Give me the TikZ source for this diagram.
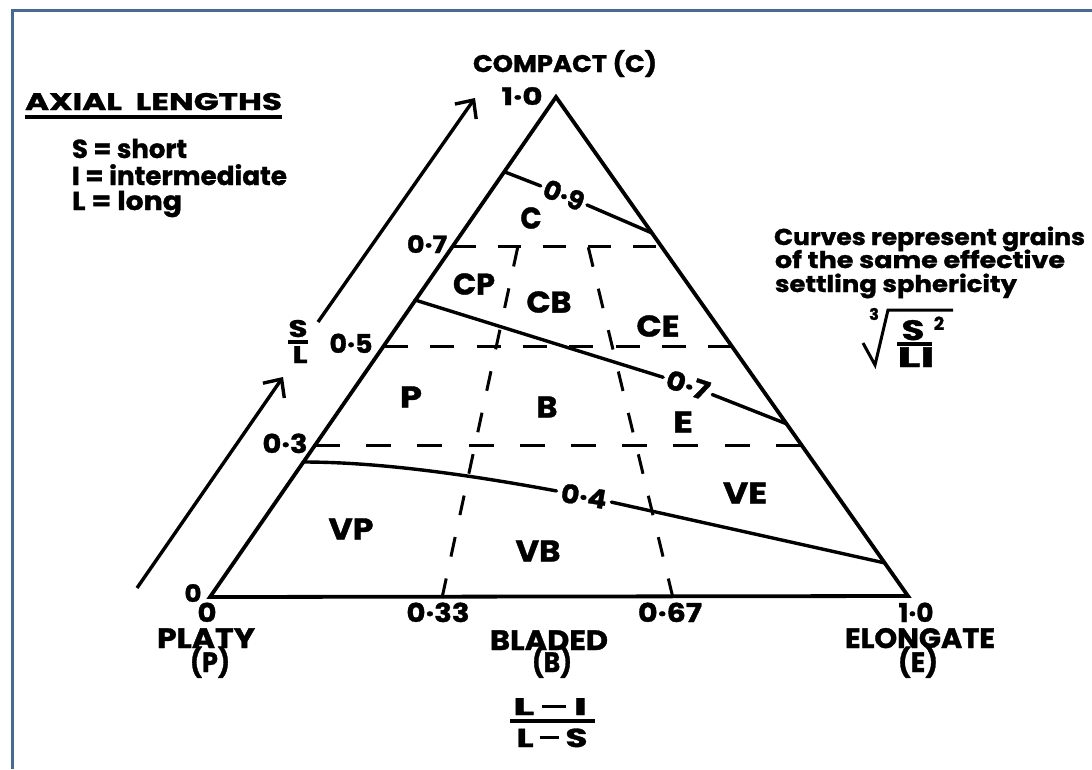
\documentclass[tikz,border=0pt]{standalone}
\usepackage{fontspec}
\setmainfont{Poppins}[BoldFeatures={FakeBold=1.2}]
\usetikzlibrary{arrows.meta}
\definecolor{framecol}{RGB}{68,104,160}
\newcommand\sw[2]{\resizebox{#1pt}{\height}{#2}}
\newcommand\fs[1]{\fontsize{#1}{#1}\selectfont}
\newcommand\dsh{\raisebox{0.3em}{\rule{0.55em}{0.11em}}}
\begin{document}
\begin{tikzpicture}[x=1pt,y=-1pt,
  lbl/.style={inner sep=0pt, outer sep=0pt},
  t24/.style={lbl, font=\bfseries\fs{24}},
  t26/.style={lbl, font=\bfseries\fs{26}},
  t28/.style={lbl, font=\bfseries\fs{28}},
  region/.style={lbl, font=\bfseries\fs{30}},
  clab/.style={inner sep=0pt, outer sep=0pt, font=\bfseries\fs{26}},
  edge/.style={line width=3.8pt},
  curve/.style={line width=3.4pt, line cap=round},
  dashline/.style={line width=3pt},
  arr/.style={line width=3.4pt, -{Straight Barb[length=14pt,width=26pt]}},
  bar/.style={line width=3.2pt}
]
\useasboundingbox (0,0) rectangle (1092,769);
\fill[white] (0,0) rectangle (1092,769);
% frame
\draw[framecol, line width=3pt] (12,769) -- (12,10) -- (1092,10);

% triangle
\coordinate (vP) at (210,597);
\coordinate (vE) at (908,596);
\coordinate (vC) at (556,97);
\draw[edge] (vP) -- (vC) -- (vE) -- cycle;

% dashed horizontal lines
\coordinate (h7l) at (453,246); \coordinate (h7r) at (661,246);
\coordinate (h5l) at (384,346); \coordinate (h5r) at (732,346);
\coordinate (h3l) at (315,445); \coordinate (h3r) at (801,445);
\draw[dashline, dash pattern=on 23pt off 22pt] (h7l) -- (h7r);
\draw[dashline, dash pattern=on 24pt off 22.3pt] (h5l) -- (h5r);
\draw[dashline, dash pattern=on 25pt off 26.2pt] (h3l) -- (h3r);
% dashed radial lines
\coordinate (t33) at (518,246); \coordinate (b33) at (442,598);
\coordinate (t67) at (588,246); \coordinate (b67) at (673,598);
\draw[dashline, dash pattern=on 20pt off 22.4pt] (b33) -- (t33);
\draw[dashline, dash pattern=on 20pt off 22.6pt] (b67) -- (t67);

% sphericity curves
\coordinate (a9) at (505,172); \coordinate (d9) at (652,233);
\node[clab, rotate=-22] (n9) at (564,195) {\sw{42}{0·9}};
\draw[curve, shorten >=4pt] (a9) -- (n9);
\draw[curve, shorten <=4pt] (n9) -- (d9);

\coordinate (a7) at (415,300); \coordinate (d7) at (787,424);
\node[clab, rotate=-18] (n7) at (688,385) {\sw{44}{0·7}};
\draw[curve, shorten >=4pt] (a7) -- (n7);
\draw[curve, shorten <=4pt] (n7) -- (d7);

\coordinate (a4) at (303,462); \coordinate (d4) at (885,563);
\node[clab, rotate=-9] (n4) at (584,496) {\sw{46}{0·4}};
\draw[curve, shorten >=5pt] (a4) .. controls (380,462) and (470,475) .. (n4);
\draw[curve, shorten <=5pt] (n4) -- (d4);

% arrows
\coordinate (u0) at (318,322); \coordinate (u1) at (475,98);
\coordinate (w0) at (137,588); \coordinate (w1) at (283,377);
\draw[arr] (u0) -- (u1);
\draw[arr] (w0) -- (w1);

% legend
\node[t24, anchor=base west] (axl) at (25,110) {\sw{257}{AXIAL\ \ LENGTHS}};
\coordinate (ul1) at (25,117); \coordinate (ul2) at (282,117);
\draw[bar] (ul1) -- (ul2);
\node[t26, anchor=base west] (lgs) at (72,158) {\sw{115}{S = short}};
\node[t26, anchor=base west] (lgi) at (72,185) {\sw{215}{I = intermediate}};
\node[t26, anchor=base west] (lgl) at (72,210) {\sw{110}{L = long}};

% top label
\node[t24, anchor=base] (cmp) at (565,72) {\sw{184}{COMPACT (C)}};

% left-side numbers
\node[t24, anchor=base] (n10t) at (522,105) {\sw{41}{1·0}};
\node[t24, anchor=base] (s07) at (427,253) {\sw{40}{0·7}};
\node[t26, anchor=base] (s05) at (351,353) {\sw{43}{0·5}};
\node[t26, anchor=base] (s03) at (285,453) {\sw{45}{0·3}};
\node[t24, anchor=base] (s00) at (193,602) {\sw{17}{0}};

% base numbers
\node[t26, anchor=base] (b00) at (207,622) {\sw{19}{0}};
\node[t26, anchor=base] (b033) at (438,622) {\sw{63}{0·33}};
\node[t26, anchor=base] (b067) at (670,622) {\sw{64}{0·67}};
\node[t26, anchor=base] (b10) at (916,622) {\sw{35}{1·0}};

% end-member labels
\node[t28, anchor=base] (platy) at (206,648) {\sw{98}{PLATY}};
\node[t28, anchor=base] (platyp) at (210,672) {\sw{40}{(P)}};
\node[t28, anchor=base] (bladed) at (549,650) {\sw{118}{BLADED}};
\node[t28, anchor=base] (bladedb) at (552,672) {\sw{40}{(B)}};
\node[t28, anchor=base] (elong) at (920,648) {\sw{150}{ELONGATE}};
\node[t28, anchor=base] (elonge) at (918,672) {\sw{40}{(E)}};

% x-axis fraction
\node[t24, anchor=base] (fnum) at (550,715) {\sw{74}{L\,\dsh\,I}};
\node[t26, anchor=base] (fden) at (552,747) {\sw{71}{L\,\dsh\,S}};
\coordinate (fb1) at (510,721); \coordinate (fb2) at (595,721);
\draw[bar] (fb1) -- (fb2);

% y-axis fraction
\node[t24, anchor=base] (ys) at (298,337) {\sw{19}{S}};
\node[t24, anchor=base] (yl) at (300,363) {\sw{15}{L}};
\coordinate (yb1) at (288,342); \coordinate (yb2) at (308,342);
\draw[bar] (yb1) -- (yb2);

% region labels
\node[region] (rC)  at (531,218) {\sw{21}{C}};
\node[region] (rCP) at (474,284) {\sw{42}{CP}};
\node[region] (rCB) at (549,302) {\sw{45}{CB}};
\node[region] (rCE) at (658,326) {\sw{43}{CE}};
\node[region] (rP)  at (411,397) {\sw{22}{P}};
\node[region] (rB)  at (547,407) {\sw{21}{B}};
\node[region] (rE)  at (683,422) {\sw{20}{E}};
\node[region] (rVP) at (351,529) {\sw{45}{VP}};
\node[region] (rVB) at (538,551) {\sw{45}{VB}};
\node[region] (rVE) at (745,493) {\sw{44}{VE}};

% right note
\node[lbl, font=\bfseries\fs{23}, anchor=base west] (r1) at (774,245) {\sw{311}{Curves represent grains}};
\node[lbl, font=\bfseries\fs{23}, anchor=base west] (r2) at (775,268) {\sw{290}{of the same effective}};
\node[lbl, font=\bfseries\fs{23}, anchor=base west] (r3) at (775,292) {\sw{242}{settling sphericity}};

% cube root formula
\node[lbl, font=\bfseries\fs{16}] (root3) at (874,314) {3};
\coordinate (rt1) at (863,343); \coordinate (rt2) at (875,365);
\coordinate (rt3) at (888,310); \coordinate (rt4) at (953,310);
\draw[line width=3pt] (rt1) -- (rt2) -- (rt3) -- (rt4);
\node[t28, anchor=base] (fs2) at (913,340) {\sw{23}{S}};
\node[lbl, font=\bfseries\fs{18}, anchor=base] (fsq) at (939,330) {2};
\coordinate (cb1) at (897,344); \coordinate (cb2) at (932,344);
\draw[bar] (cb1) -- (cb2);
\node[t28, anchor=base] (fli) at (916,367) {\sw{37}{LI}};
\end{tikzpicture}
\end{document}
